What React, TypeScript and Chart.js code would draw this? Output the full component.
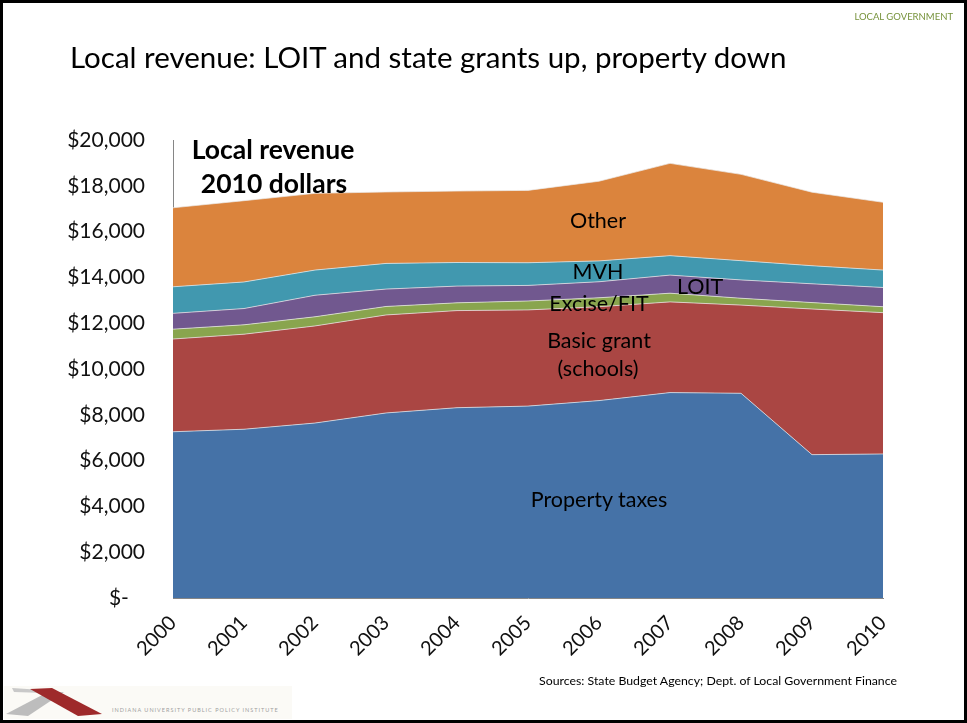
import React, { useEffect, useRef } from "react";
import { Chart, registerables } from "chart.js";

Chart.register(...registerables);

// ---------- data ----------
const years = ["2000", "2001", "2002", "2003", "2004", "2005", "2006", "2007", "2008", "2009", "2010"];
const propertyTaxes = [7260, 7370, 7640, 8080, 8310, 8380, 8620, 8970, 8940, 6260, 6290];
const basicGrant = [4050, 4150, 4240, 4280, 4240, 4200, 4100, 3960, 3850, 6360, 6170];
const exciseFit = [430, 410, 400, 370, 340, 390, 390, 380, 300, 280, 260];
const loit = [690, 710, 940, 760, 730, 680, 700, 790, 800, 820, 840];
const mvh = [1160, 1160, 1100, 1120, 1030, 990, 910, 850, 840, 790, 760];
const other = [3450, 3550, 3350, 3120, 3120, 3160, 3480, 4030, 3770, 3210, 2960];

const seriesNames = ["Property taxes", "Basic grant (schools)", "Excise/FIT", "LOIT", "MVH", "Other"];
const seriesColors = ["#4572A7", "#AA4643", "#89A54E", "#71588F", "#4198AF", "#DB843D"];
const yMin = 0;
const yMax = 20000;
const yStep = 2000;

const FONT = "Lato, 'Open Sans', 'DejaVu Sans', sans-serif";

const abs = (extra: React.CSSProperties): React.CSSProperties => ({
  position: "absolute",
  fontFamily: FONT,
  whiteSpace: "nowrap",
  lineHeight: 1,
  ...extra,
});

const centered = (x: number, y: number, size: number, bold = false): React.CSSProperties =>
  abs({
    left: x,
    top: y,
    transform: "translate(-50%, -50%)",
    fontSize: size,
    fontWeight: bold ? 700 : 400,
    color: "#000",
  });

export default function App() {
  const canvasRef = useRef<HTMLCanvasElement | null>(null);

  useEffect(() => {
    let chart: Chart | null = null;
    let cancelled = false;
    const make = () => {
      if (cancelled || !canvasRef.current) return;
      const seriesData = [propertyTaxes, basicGrant, exciseFit, loit, mvh, other];
      chart = new Chart(canvasRef.current, {
        type: "line",
        data: {
          labels: years,
          datasets: seriesData.map((d, i) => ({
            label: seriesNames[i],
            data: d,
            backgroundColor: seriesColors[i],
            borderColor: "rgba(235,235,235,0.7)",
            borderWidth: 1,
            fill: i === 0 ? "origin" : "-1",
            pointRadius: 0,
            tension: 0,
          })),
        },
        options: {
          animation: false,
          responsive: false,
          maintainAspectRatio: false,
          layout: { padding: { top: 140, right: 84, left: 0, bottom: 0 } },
          plugins: { legend: { display: false }, tooltip: { enabled: false } },
          scales: {
            x: {
              offset: false,
              grid: { display: false, drawTicks: false },
              border: { display: true, color: "#868686" },
              ticks: {
                minRotation: 45,
                maxRotation: 45,
                padding: 13,
                color: "#111",
                font: { family: FONT, size: 20 },
              },
              afterFit: (s: any) => {
                s.height = 125;
              },
            },
            y: {
              stacked: true,
              min: yMin,
              max: yMax,
              grid: { display: false, drawTicks: false },
              border: { display: true, color: "#868686" },
              ticks: {
                stepSize: yStep,
                padding: 28,
                color: "#111",
                font: { family: FONT, size: 21 },
                callback: (v: any) => (Number(v) === 0 ? "$-   " : "$" + Number(v).toLocaleString("en-US")),
              },
              afterFit: (s: any) => {
                s.width = 173;
              },
            },
          },
        },
      });
    };
    const fonts = (document as any).fonts;
    if (fonts && fonts.load) {
      Promise.all([fonts.load("20px Lato"), fonts.load("bold 20px Lato")])
        .catch(() => null)
        .then(make);
    } else {
      make();
    }
    return () => {
      cancelled = true;
      if (chart) chart.destroy();
    };
  }, []);

  return (
    <div style={{ position: "absolute", left: 0, top: 0, width: 967, height: 723, background: "#fff", overflow: "hidden" }}>
      <canvas ref={canvasRef} width={967} height={723} style={{ position: "absolute", left: 0, top: 0, width: 967, height: 723 }} />

      {/* header */}
      <div style={abs({ right: 14, top: 12, fontSize: 9.5, color: "#77933C" })}>LOCAL GOVERNMENT</div>
      <div style={abs({ left: 70, top: 42, fontSize: 29.5, color: "#000" })}>
        Local revenue: LOIT and state grants up, property down
      </div>

      {/* chart annotations */}
      <div style={centered(273, 149, 26.5, true)}>Local revenue</div>
      <div style={centered(274, 183, 26.5, true)}>2010 dollars</div>
      <div style={centered(598, 221, 21.5)}>Other</div>
      <div style={centered(598, 272, 21.5)}>MVH</div>
      <div style={centered(700, 287, 21.5)}>LOIT</div>
      <div style={centered(599, 304, 21.5)}>Excise/FIT</div>
      <div style={centered(599, 341, 21.5)}>Basic grant</div>
      <div style={centered(598, 369, 21.5)}>(schools)</div>
      <div style={centered(599, 500, 21.5)}>Property taxes</div>

      {/* footer */}
      <div style={abs({ right: 70, top: 675, fontSize: 12.3, color: "#000" })}>
        Sources: State Budget Agency; Dept. of Local Government Finance
      </div>

      {/* logo */}
      <div style={{ position: "absolute", left: 4, top: 686, width: 288, height: 33, background: "#FBFAF6" }} />
      <svg width={120} height={40} style={{ position: "absolute", left: 0, top: 683 }}>
        <polygon points="12,5 42,7 44,10 14,9" fill="#C9C9C9" />
        <polygon points="6,31 46,10 64,9 28,33" fill="#BDBDBD" />
        <polygon points="30,6 52,5 102,31 78,33" fill="#9E2A2B" />
      </svg>
      <div style={abs({ left: 112, top: 708, fontSize: 5.5, letterSpacing: 1, color: "#A0A0A0" })}>
        INDIANA UNIVERSITY PUBLIC POLICY INSTITUTE
      </div>

      {/* frame */}
      <div style={{ position: "absolute", left: 0, top: 0, width: 967, height: 723, boxSizing: "border-box", border: "3px solid #000", pointerEvents: "none" }} />
    </div>
  );
}
